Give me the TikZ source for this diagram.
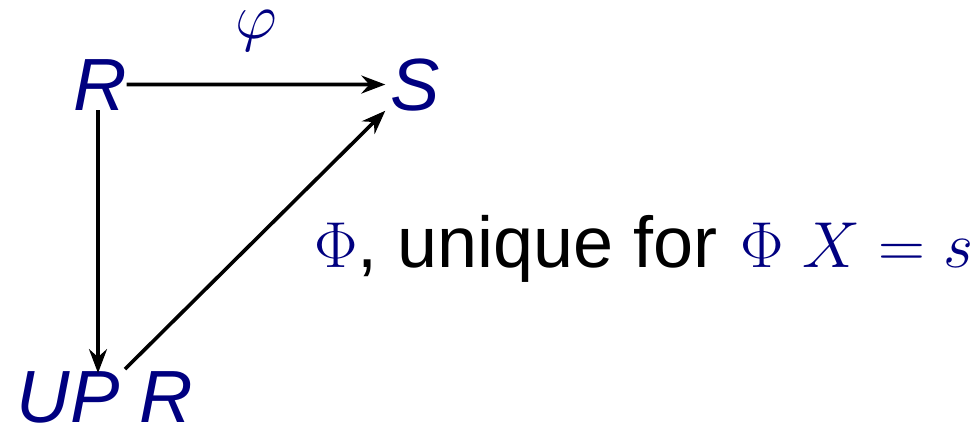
\RequirePackage{fix-cm}
\documentclass[tikz,border=0pt]{standalone}
\usepackage{fontspec}
\usetikzlibrary{arrows.meta}
\newfontfamily\arialfont{Liberation Sans}
\definecolor{navyblue}{RGB}{0,0,128}
\newcommand{\bigsans}{\arialfont\fontsize{74}{80}\selectfont\itshape}
\newcommand{\mathsz}{\fontsize{65}{70}\selectfont}
\newcommand{\labsans}{\arialfont\fontsize{72}{80}\selectfont}
\tikzset{
  obj/.style={inner sep=0pt, outer sep=0pt, text=navyblue, font=\bigsans, anchor=base},
  arr/.style={line width=3.6pt, -{Stealth[length=24pt,width=18pt,inset=8pt]}},
  mlabel/.style={inner sep=0pt, outer sep=0pt, text=navyblue, font=\mathsz}
}
\begin{document}
\begin{tikzpicture}[x=1pt,y=-1pt]
\useasboundingbox (0,0) rectangle (975,424);
\node[obj] (R) at (100,110) {R};
\node[obj] (S) at (415,110) {S};
\node[obj] (UPR) at (105,422) {UP R};
\draw[arr] (R.east) -- node[mlabel, midway, above=33pt] (phi) {$\varphi$} ([xshift=-5pt]S.west);
\draw[arr] ([xshift=-2pt]R.south) -- ([xshift=-2pt,yshift=-2pt]R.south |- UPR.north);
\draw[arr] ([xshift=20pt,yshift=2pt]UPR.north) -- ([xshift=-5pt]S.south west);
\node[inner sep=0pt, anchor=base west] (lab) at (314,267)
  {{\mathsz\color{navyblue}$\Phi$}{\labsans, unique for }{\mathsz\color{navyblue}\hspace{3pt}$\Phi\;X = s$}};
\end{tikzpicture}
\end{document}
